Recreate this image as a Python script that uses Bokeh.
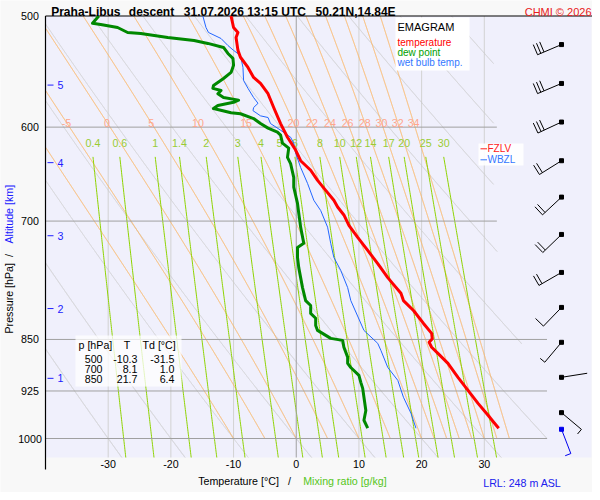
import numpy as np
from bokeh.plotting import figure
from bokeh.models import Range1d, Label
from bokeh.core.properties import value
from bokeh.embed import file_html
from bokeh.resources import INLINE

FONT = "Liberation Sans"

# ---------------- data ----------------
temp_p = [500, 509.5, 513.7, 518, 529, 535, 544, 553, 558.5, 568, 581, 596.5, 610, 623, 634, 644,
          654.8, 665.6, 676.5, 684, 693, 705, 719, 734.5, 750.5, 768, 775.6, 788, 797.5, 810.6, 828,
          841.6, 849, 854, 861, 869.6, 884, 904.5, 924, 944, 962.6, 973.7, 983.3]
temp_t = [-10.4, -10.0, -9.3, -9.6, -9.3, -8.9, -7.7, -6.8, -5.7, -4.5, -3.6, -2.5, -1.4, -0.1, 0.7, 2.3,
          3.4, 4.7, 6.0, 6.6, 7.6, 8.4, 9.8, 11.4, 13.0, 14.6, 15.4, 16.7, 17.1, 18.7, 20.3,
          21.6, 21.7, 21.2, 21.6, 22.6, 24.2, 25.8, 27.4, 29.0, 30.6, 31.5, 32.3]

dew_p = [500, 506, 507, 509.5, 513.7, 514.6, 518, 520.5, 523, 526.5, 531.7, 536, 542, 548.5, 554,
         560.4, 563, 565, 568, 571.6, 574, 576, 579, 582, 586, 587, 591.6, 596.5, 601, 605, 608, 616,
         621, 630.5, 637, 651.6, 662, 680, 691, 707, 726, 731, 743, 755.5, 768, 780.7, 797.5, 804,
         814.5, 821, 830.7, 837.5, 848.5, 851.3, 861, 875, 884, 890, 901.5, 912, 921, 934.6, 955,
         970.5, 983.3]
dew_t = [-31.5, -32.5, -31.2, -28.5, -26.9, -24.8, -20.5, -16.3, -14.1, -11.6, -10.9, -10.1, -10.0,
         -10.4, -11.6, -13.2, -13.3, -12.0, -12.5, -11.6, -9.2, -10.0, -12.5, -13.2, -10.4, -8.9, -6.8,
         -5.7, -4.5, -3.0, -2.5, -2.2, -1.2, -1.4, -0.9, -0.4, -0.4, 0.2, 0.4, 0.7, 1.2, 0.2, 0.2, 0.4,
         0.7, 1.0, 1.5, 2.3, 2.3, 3.1, 3.1, 3.4, 5.5, 7.4, 7.6, 8.2, 8.2, 8.7, 10.0, 10.3, 10.6, 10.8,
         11.1, 10.8, 11.4]

wb_p = [500, 509.5, 513.7, 518.8, 524.8, 529, 533.5, 544, 555.8, 563, 571.6, 577, 581, 584, 589,
        590.6, 596.5, 603, 610, 616, 626, 641, 658, 676.5, 688, 707, 726, 743, 759, 780.7, 797.5,
        837.5, 855.5, 865.4, 890, 909, 934.6, 959.4, 983.3]
wb_t = [-14.9, -14.4, -14.0, -12.0, -10.9, -10.0, -8.9, -8.5, -8.4, -7.7, -6.8, -6.1, -6.8, -6.9, -5.7,
        -4.5, -4.1, -2.5, -0.9, -0.4, -0.1, 0.7, 1.8, 2.8, 3.9, 5.0, 5.5, 6.0, 7.1, 8.2, 8.7,
        10.8, 13.0, 13.5, 14.6, 16.2, 17.1, 18.3, 19.1]

table_p = ["500", "700", "850"]
table_t = ["-10.3", "8.1", "21.7"]
table_td = ["-31.5", "1.0", "6.4"]

alt_km = [1, 2, 3, 4, 5]
alt_p = [906, 808, 717, 636, 560]

barb_p = [524, 558.5, 595, 634, 673, 715.5, 761.5, 806.5, 854, 904.5, 958.5, 985]
barb_dir = [247, 247, 245, 238, 227, 226, 240, 224, 220, 81, 130, 159]
barb_spd = [30, 30, 30, 20, 20, 20, 20, 10, 5, 2, 5, 5]

isobars = [600, 700, 850, 925, 1000]
isobar_end = [32, 32, 40, 40, 40]
pressure_ticks = [500, 600, 700, 850, 925, 1000]
isotherms = [-30, -20, -10, 10, 20, 30]
x_ticks = [-30, -20, -10, 0, 10, 20, 30]
dry_theta = list(range(-30, 130, 10))
moist_thw = [-10, -5, 0, 5, 10, 15, 20, 22, 24, 26, 28, 30, 32, 34]
moist_lab = [-5, 0, 5, 10, 15, 20, 22, 24, 26, 28, 30, 32, 34]
mix_w = [0.4, 0.6, 1, 1.4, 2, 3, 4, 5, 6, 8, 10, 12, 14, 17, 20, 25, 30]

# ---------------- layout (page pixels -> data) ----------------
W, H = 592, 492
T_LEFT = -40.0
P_TOP = 500.0
IMG_L, IMG_T = 45.0, 15.5          # diagram panel top-left in pixels
PXD = 6.2687                       # pixels per degree C
PXL = (438.0 - IMG_T) / np.log(2.0)  # pixels per unit ln(p)


def tx(ix):
    return T_LEFT + (ix - IMG_L) / PXD


def py(iy):
    return P_TOP * np.exp((iy - IMG_T) / PXL)


X_R = tx(591)
P_BOT = py(457)

p = figure(width=W, height=H, x_range=Range1d(tx(0), tx(W)), y_range=Range1d(py(H), py(0)),
           y_axis_type="log", x_axis_location=None, y_axis_location=None,
           output_backend="svg", toolbar_location=None, min_border=0,
           background_fill_color="#f8f8f8", border_fill_color="#f8f8f8", outline_line_color=None)
p.grid.visible = False

# diagram panel
p.quad(left=[T_LEFT], right=[X_R], top=[P_TOP], bottom=[P_BOT], fill_color="#f0f0fc",
       line_color=None)

# ---------------- background diagram lines ----------------
p.segment(x0=isotherms, y0=[P_TOP] * len(isotherms), x1=isotherms, y1=[P_BOT] * len(isotherms),
          line_color="#d2d2d2", line_width=1)


def t_clip(pp):
    return np.where(pp <= 720, 31.5,
                    np.minimum(40.0, 31.5 + 8.5 * np.log(pp / 720.0) / np.log(1000.0 / 720.0)))


pg = np.linspace(P_TOP, P_BOT, 2500)
dxs, dys = [], []
for th in dry_theta:
    T = (th + 273.15) * (pg / 1000.0) ** 0.2857 - 273.15
    m = (T <= t_clip(pg)) & (T >= T_LEFT)
    if m.sum() > 1:
        dxs.append(T[m])
        dys.append(pg[m])
p.multi_line(dxs, dys, line_color="#cfcfcf", line_width=1)


def es(tc):
    return 6.112 * np.exp(17.67 * tc / (tc + 243.5))


def dtdp(pp, tk):
    Rd, cp, Lv, eps = 287.04, 1005.7, 2.501e6, 0.622
    e = es(tk - 273.15)
    rs = eps * e / (pp - e)
    return (Rd * tk + Lv * rs) / (cp + Lv * Lv * rs * eps / (Rd * tk * tk)) / pp


def moist_line(thw):
    ps = np.arange(1000.0, 499.0, -2.0)
    T = thw + 273.15
    out = [T]
    for i in range(len(ps) - 1):
        h = ps[i + 1] - ps[i]
        k1 = dtdp(ps[i], T)
        k2 = dtdp(ps[i] + h / 2, T + h / 2 * k1)
        k3 = dtdp(ps[i] + h / 2, T + h / 2 * k2)
        k4 = dtdp(ps[i] + h, T + h * k3)
        T = T + h / 6 * (k1 + 2 * k2 + 2 * k3 + k4)
        out.append(T)
    return ps[::-1], (np.array(out) - 273.15)[::-1]


pd_ = np.linspace(P_TOP, 1000.0, 2001)
mxs, mys, lab_x = [], [], []
for thw in moist_thw:
    ps, Ts = moist_line(thw)
    Tf = np.interp(pd_, ps, Ts)
    m = Tf >= T_LEFT
    mxs.append(Tf[m])
    mys.append(pd_[m])
    if thw in moist_lab:
        lab_x.append(float(np.interp(595.5, ps, Ts)))
p.multi_line(mxs, mys, line_color="#ffb35c", line_width=1)


def td_from_w(w, pp):
    e = w * pp / (622.0 + w)
    l = np.log(e / 6.112)
    return 243.5 * l / (17.67 - l)


pm = np.linspace(630.0, P_BOT, 150)
p.multi_line([td_from_w(w, pm) for w in mix_w], [pm for _ in mix_w],
             line_color="#8ed300", line_width=1)

p.segment(x0=[T_LEFT] * len(isobars), y0=isobars, x1=isobar_end, y1=isobars,
          line_color="#a0a0a0", line_width=1)
p.segment(x0=[0], y0=[P_TOP], x1=[0], y1=[P_BOT], line_color="#a0a0a0", line_width=1)

# frame lines (top and left)
p.segment(x0=[T_LEFT, T_LEFT], y0=[P_TOP, P_TOP], x1=[tx(596), T_LEFT], y1=[P_TOP, py(469)],
          line_color="black", line_width=1.2)

# labels of moist adiabats and mixing-ratio lines
p.text(x=lab_x, y=[595.5] * len(lab_x), text=[str(v) for v in moist_lab],
       text_font=value(FONT), text_font_size=value("10.67px"), text_color="#ffa68c",
       text_align="center", text_baseline="middle")
p.text(x=[float(td_from_w(w, 630.0)) for w in mix_w], y=[616.3] * len(mix_w),
       text=[f"{w:g}" for w in mix_w], text_font=value(FONT), text_font_size=value("10.67px"),
       text_color="#99cc33", text_align="center", text_baseline="middle")

# altitude ticks
p.segment(x0=[tx(47)] * len(alt_p), y0=alt_p, x1=[tx(53)] * len(alt_p), y1=alt_p,
          line_color="#2020ff", line_width=1)
p.text(x=[tx(57)] * len(alt_p), y=alt_p, text=[str(k) for k in alt_km], text_font=value(FONT),
       text_font_size=value("10.67px"), text_color="#2020ff", text_align="left",
       text_baseline="middle")

# axis tick labels
p.text(x=x_ticks, y=[py(463)] * len(x_ticks), text=[str(v) for v in x_ticks],
       text_font=value(FONT), text_font_size=value("10.67px"), text_color="black",
       text_align="center", text_baseline="middle")
p.text(x=[tx(29.5)] * len(pressure_ticks), y=pressure_ticks, text=[str(v) for v in pressure_ticks],
       text_font=value(FONT), text_font_size=value("10.67px"), text_color="black",
       text_align="center", text_baseline="middle")

# ---------------- sounding curves ----------------
p.line(wb_t, wb_p, line_color="#2266ff", line_width=1)
p.line(dew_t, dew_p, line_color="#008800", line_width=3, line_join="round")
p.line(temp_t, temp_p, line_color="#ff0000", line_width=3, line_join="round")

# ---------------- wind barbs ----------------
T_BARB = tx(561)


def barb_segments(p0, d, spd):
    L, FL, HL, SP = 26.0, 11.0, 6.0, 3.5
    r = np.deg2rad(d)
    sx, sy = np.sin(r), -np.cos(r)
    fx, fy = -sy, sx
    segs = [((0.0, 0.0), (L * sx, L * sy))]
    pos = L
    for _ in range(int(spd // 10)):
        bx, by = pos * sx, pos * sy
        segs.append(((bx, by), (bx + FL * fx, by + FL * fy)))
        pos -= SP
    if spd % 10 >= 5:
        bx, by = pos * sx, pos * sy
        segs.append(((bx, by), (bx + HL * fx, by + HL * fy)))
    xs, ys = [], []
    for (a, b) in segs:
        xs.append([T_BARB + a[0] / PXD, T_BARB + b[0] / PXD])
        ys.append([p0 * np.exp(a[1] / PXL), p0 * np.exp(b[1] / PXL)])
    return xs, ys


bx_k, by_k = [], []
for i in range(len(barb_p) - 1):
    xs, ys = barb_segments(barb_p[i], barb_dir[i], barb_spd[i])
    bx_k += xs
    by_k += ys
p.multi_line(bx_k, by_k, line_color="black", line_width=1)
bx_b, by_b = barb_segments(barb_p[-1], barb_dir[-1], barb_spd[-1])
p.multi_line(bx_b, by_b, line_color="#0000ee", line_width=1)
p.scatter(x=[T_BARB] * (len(barb_p) - 1), y=barb_p[:-1], marker="square", size=4,
          fill_color="black", line_color="black")
p.scatter(x=[T_BARB], y=[barb_p[-1]], marker="square", size=4, fill_color="#0000ee",
          line_color="#0000ee")

# ---------------- boxes ----------------
p.quad(left=[tx(395)], right=[tx(469)], top=[py(17)], bottom=[py(70)], fill_color="white",
       line_color=None)
p.quad(left=[tx(478)], right=[tx(523)], top=[py(143)], bottom=[py(165)], fill_color="white",
       fill_alpha=0.9, line_color=None)
p.quad(left=[tx(75)], right=[tx(181)], top=[py(335)], bottom=[py(386)], fill_color="white",
       fill_alpha=0.75, line_color=None)
p.segment(x0=[tx(480), tx(480)], y0=[py(148.3), py(159.3)], x1=[tx(486.5), tx(486.5)],
          y1=[py(148.3), py(159.3)], line_color=["#ff2020", "#3377ff"], line_width=1)


# ---------------- texts ----------------
def lab(ix, iy, text, color="black", size="10.67px", align="left", baseline="middle",
        bold=False, angle=0.0):
    p.add_layout(Label(x=tx(ix), y=py(iy), text=text, text_color=color,
                       text_font=FONT, text_font_size=size, text_align=align,
                       text_baseline=baseline, text_font_style=("bold" if bold else "normal"),
                       angle=angle))


lab(50.7, 11.3, "Praha-Libus", size="12px", bold=True, baseline="alphabetic")
lab(128.3, 11.3, "descent", size="12px", bold=True, baseline="alphabetic")
lab(183.3, 11.3, "31.07.2026 13:15 UTC", size="12px", bold=True, baseline="alphabetic")
lab(315, 11.3, "50.21N,14.84E", size="12px", bold=True, baseline="alphabetic")
lab(591, 11.3, "CHMI \u00a9 2026", color="#e82020", size="11px", align="right",
    baseline="alphabetic")

lab(397, 26, "EMAGRAM", size="11px")
lab(397, 41.7, "temperature", color="#ff0000", size="10px")
lab(397, 51.5, "dew point", color="#00a000", size="10px")
lab(397, 61.5, "wet bulb temp.", color="#3377ff", size="10px")

lab(487, 148.3, "FZLV", color="#ff2020", size="10px")
lab(487, 159.3, "WBZL", color="#3377ff", size="10px")

lab(78, 344, "p [hPa]")
lab(126.5, 344, "T", align="center")
lab(142, 344, "Td [\u00b0C]")
for i, (a, b, c) in enumerate(zip(table_p, table_t, table_td)):
    yy = 358.3 + 10.2 * i
    lab(102, yy, a, align="right")
    lab(137, yy, b, align="right")
    lab(174, yy, c, align="right")

lab(197.7, 480, "Temperature [\u00b0C]")
lab(289, 480, "/", align="center")
lab(302.7, 480, "Mixing ratio [g/kg]", color="#55c622")
lab(482.7, 482, "LRL: 248 m ASL", color="#2020ee")

lab(8.5, 333, "Pressure [hPa]", angle=np.pi / 2)
lab(8.5, 255, "/", align="center", angle=np.pi / 2)
lab(8.5, 243, "Altitude [km]", color="#2020ff", angle=np.pi / 2)

open("out.html", "w", encoding="utf-8").write(file_html(p, INLINE))
